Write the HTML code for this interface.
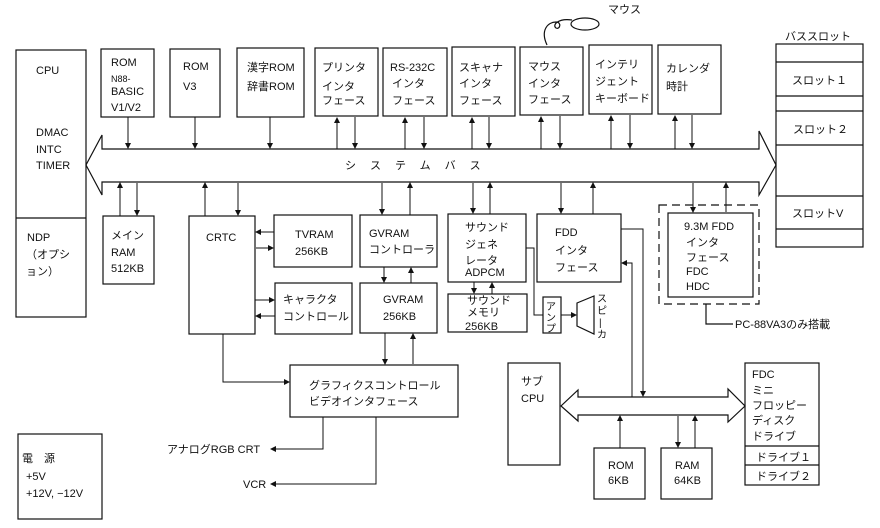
<!DOCTYPE html>
<html><head><meta charset="utf-8"><style>
html,body{margin:0;padding:0;background:#fff;}
svg{display:block;}
text{font-family:"Liberation Sans","Noto Sans CJK JP",sans-serif;font-size:11px;fill:#111;}
</style></head><body>
<svg width="880" height="528" viewBox="0 0 880 528" xmlns="http://www.w3.org/2000/svg">
<defs>
<marker id="a" markerWidth="6" markerHeight="6" refX="5" refY="3" orient="auto" markerUnits="userSpaceOnUse"><path d="M0,0 L6,3 L0,6 z" fill="#111"/></marker>
</defs>
<g fill="none" stroke="#111" stroke-width="1.2">
<!-- CPU -->
<rect x="16" y="50" width="70" height="267"/>
<line x1="16" y1="218" x2="86" y2="218"/>
<!-- top boxes -->
<rect x="101" y="49" width="53" height="68"/>
<rect x="170" y="49" width="50" height="68"/>
<rect x="237" y="48" width="67" height="69"/>
<rect x="315" y="48" width="63" height="68"/>
<rect x="383" y="48" width="64" height="68"/>
<rect x="452" y="47" width="63" height="69"/>
<rect x="520" y="47" width="63" height="68"/>
<rect x="589" y="45" width="63" height="69"/>
<rect x="658" y="45" width="63" height="69"/>
<!-- bus slot -->
<rect x="776" y="44" width="87" height="203"/>
<line x1="776" y1="62" x2="863" y2="62"/>
<line x1="776" y1="96" x2="863" y2="96"/>
<line x1="776" y1="111" x2="863" y2="111"/>
<line x1="776" y1="145" x2="863" y2="145"/>
<line x1="776" y1="196" x2="863" y2="196"/>
<line x1="776" y1="229" x2="863" y2="229"/>
<!-- system bus -->
<path d="M102,149 L759,149 L759,131 L776,165 L759,195 L759,182 L102,182 L102,195 L86,165 L102,135 Z"/>
<!-- mouse icon -->
<path d="M547,45 C540,30 548,22 556,22 C562,22 560,30 556,28 C552,25 558,18 572,20"/>
<ellipse cx="585" cy="24" rx="14" ry="6"/>
<!-- lower boxes -->
<rect x="103" y="216" width="51" height="68"/>
<rect x="189" y="216" width="66" height="118"/>
<rect x="274" y="215" width="78" height="52"/>
<rect x="360" y="215" width="77" height="52"/>
<rect x="275" y="283" width="77" height="51"/>
<rect x="360" y="283" width="77" height="50"/>
<rect x="290" y="365" width="168" height="52"/>
<rect x="448" y="214" width="78" height="68"/>
<rect x="448" y="294" width="79" height="38"/>
<rect x="537" y="214" width="84" height="68"/>
<rect x="543" y="297" width="18" height="36"/>
<path d="M577,303 L594,296 L594,334 L577,326 Z"/>
<rect x="659" y="205" width="100" height="99" stroke-dasharray="8,5"/>
<rect x="668" y="213" width="85" height="84"/>
<path d="M706,304 L706,324 L733,324"/>
<rect x="508" y="363" width="52" height="102"/>
<path d="M578,397 L728,397 L728,389 L745,406 L728,422 L728,415 L578,415 L578,421 L561,406 L578,390 Z"/>
<rect x="745" y="363" width="74" height="122"/>
<line x1="745" y1="446" x2="819" y2="446"/>
<line x1="745" y1="465" x2="819" y2="465"/>
<rect x="594" y="448" width="51" height="51"/>
<rect x="661" y="448" width="51" height="51"/>
<rect x="18" y="434" width="84" height="85"/>
</g>
<g stroke="#111" stroke-width="1" fill="none">
<!-- top connectors -->
<line x1="128" y1="117" x2="128" y2="148" marker-end="url(#a)"/>
<line x1="195" y1="117" x2="195" y2="148" marker-end="url(#a)"/>
<line x1="270" y1="117" x2="270" y2="148" marker-end="url(#a)"/>
<line x1="337" y1="149" x2="337" y2="118" marker-end="url(#a)"/>
<line x1="355" y1="117" x2="355" y2="148" marker-end="url(#a)"/>
<line x1="405" y1="149" x2="405" y2="118" marker-end="url(#a)"/>
<line x1="424" y1="117" x2="424" y2="148" marker-end="url(#a)"/>
<line x1="472" y1="149" x2="472" y2="118" marker-end="url(#a)"/>
<line x1="489" y1="117" x2="489" y2="148" marker-end="url(#a)"/>
<line x1="541" y1="149" x2="541" y2="117" marker-end="url(#a)"/>
<line x1="560" y1="116" x2="560" y2="148" marker-end="url(#a)"/>
<line x1="611" y1="149" x2="611" y2="116" marker-end="url(#a)"/>
<line x1="630" y1="115" x2="630" y2="148" marker-end="url(#a)"/>
<line x1="675" y1="149" x2="675" y2="116" marker-end="url(#a)"/>
<line x1="692" y1="115" x2="692" y2="148" marker-end="url(#a)"/>
<!-- lower connectors -->
<line x1="120" y1="216" x2="120" y2="183" marker-end="url(#a)"/>
<line x1="137" y1="183" x2="137" y2="215" marker-end="url(#a)"/>
<line x1="205" y1="216" x2="205" y2="183" marker-end="url(#a)"/>
<line x1="238" y1="183" x2="238" y2="215" marker-end="url(#a)"/>
<line x1="382" y1="183" x2="382" y2="214" marker-end="url(#a)"/>
<line x1="410" y1="215" x2="410" y2="183" marker-end="url(#a)"/>
<line x1="473" y1="183" x2="473" y2="213" marker-end="url(#a)"/>
<line x1="490" y1="214" x2="490" y2="183" marker-end="url(#a)"/>
<line x1="561" y1="183" x2="561" y2="213" marker-end="url(#a)"/>
<line x1="593" y1="214" x2="593" y2="183" marker-end="url(#a)"/>
<line x1="693" y1="183" x2="693" y2="212" marker-end="url(#a)"/>
<line x1="726" y1="212" x2="726" y2="183" marker-end="url(#a)"/>
<!-- CRTC links -->
<line x1="274" y1="232" x2="256" y2="232" marker-end="url(#a)"/>
<line x1="256" y1="248" x2="273" y2="248" marker-end="url(#a)"/>
<line x1="255" y1="300" x2="274" y2="300" marker-end="url(#a)"/>
<line x1="275" y1="316" x2="256" y2="316" marker-end="url(#a)"/>
<line x1="384" y1="267" x2="384" y2="282" marker-end="url(#a)"/>
<line x1="411" y1="283" x2="411" y2="268" marker-end="url(#a)"/>
<line x1="385" y1="333" x2="385" y2="364" marker-end="url(#a)"/>
<line x1="413" y1="364" x2="413" y2="334" marker-end="url(#a)"/>
<path d="M223,334 L223,382 L289,382" marker-end="url(#a)"/>
<path d="M323,417 L323,449 L271,449" marker-end="url(#a)"/>
<path d="M376,417 L376,484 L271,484" marker-end="url(#a)"/>
<line x1="474" y1="282" x2="474" y2="293" marker-end="url(#a)"/>
<line x1="492" y1="294" x2="492" y2="283" marker-end="url(#a)"/>
<path d="M526,248 L534,248 L534,315 L543,315"/>
<line x1="561" y1="315" x2="576" y2="315" marker-end="url(#a)"/>
<path d="M621,229 L643,229 L643,396" marker-end="url(#a)"/>
<path d="M632,397 L632,263 L622,263" marker-end="url(#a)"/>
<line x1="620" y1="448" x2="620" y2="416" marker-end="url(#a)"/>
<line x1="678" y1="416" x2="678" y2="447" marker-end="url(#a)"/>
<line x1="695" y1="448" x2="695" y2="416" marker-end="url(#a)"/>
</g>
<!-- text -->
<text x="36" y="74">CPU</text>
<text x="36" y="136">DMAC</text>
<text x="36" y="153">INTC</text>
<text x="36" y="169">TIMER</text>
<text x="27" y="241">NDP</text>
<text x="26" y="258">（オプシ</text>
<text x="26" y="275">ョン）</text>
<text x="111" y="66">ROM</text>
<text x="111" y="82" style="font-size:9px">N88-</text>
<text x="111" y="95">BASIC</text>
<text x="111" y="111">V1/V2</text>
<text x="183" y="70">ROM</text>
<text x="183" y="90">V3</text>
<text x="247" y="71">漢字ROM</text>
<text x="247" y="90">辞書ROM</text>
<text x="322" y="71">プリンタ</text>
<text x="322" y="90">インタ</text>
<text x="322" y="104">フェース</text>
<text x="390" y="71">RS-232C</text>
<text x="392" y="87">インタ</text>
<text x="392" y="104">フェース</text>
<text x="459" y="71">スキャナ</text>
<text x="459" y="87">インタ</text>
<text x="459" y="104">フェース</text>
<text x="528" y="70">マウス</text>
<text x="528" y="87">インタ</text>
<text x="528" y="103">フェース</text>
<text x="595" y="68">インテリ</text>
<text x="595" y="85">ジェント</text>
<text x="595" y="102">キーボード</text>
<text x="666" y="72">カレンダ</text>
<text x="666" y="90">時計</text>
<text x="608" y="13">マウス</text>
<text x="785" y="40">バススロット</text>
<text x="792" y="84">スロット１</text>
<text x="793" y="133">スロット２</text>
<text x="792" y="217">スロットV</text>
<text x="345" y="169" style="letter-spacing:14px">システムバス</text>
<text x="111" y="239">メイン</text>
<text x="111" y="256">RAM</text>
<text x="111" y="272">512KB</text>
<text x="206" y="241">CRTC</text>
<text x="295" y="238">TVRAM</text>
<text x="295" y="255">256KB</text>
<text x="369" y="237">GVRAM</text>
<text x="369" y="253">コントローラ</text>
<text x="283" y="303">キャラクタ</text>
<text x="283" y="320">コントロール</text>
<text x="383" y="303">GVRAM</text>
<text x="383" y="320">256KB</text>
<text x="309" y="389">グラフィクスコントロール</text>
<text x="309" y="405">ビデオインタフェース</text>
<text x="167" y="453">アナログRGB CRT</text>
<text x="243" y="488">VCR</text>
<text x="465" y="231">サウンド</text>
<text x="465" y="248">ジェネ</text>
<text x="465" y="264">レータ</text>
<text x="465" y="276">ADPCM</text>
<text x="467" y="304">サウンド</text>
<text x="467" y="316">メモリ</text>
<text x="465" y="330">256KB</text>
<text x="555" y="236">FDD</text>
<text x="555" y="254">インタ</text>
<text x="555" y="271">フェース</text>
<text x="546" y="310" style="font-size:10px">ア</text>
<text x="546" y="321" style="font-size:10px">ン</text>
<text x="546" y="332" style="font-size:10px">プ</text>
<text x="597" y="302" style="font-size:10px">ス</text>
<text x="597" y="314" style="font-size:10px">ピ</text>
<text x="599" y="326" style="font-size:10px">|</text>
<text x="597" y="338" style="font-size:10px">カ</text>
<text x="684" y="230">9.3M FDD</text>
<text x="686" y="246">インタ</text>
<text x="686" y="261">フェース</text>
<text x="686" y="275">FDC</text>
<text x="686" y="290">HDC</text>
<text x="735" y="328">PC-88VA3のみ搭載</text>
<text x="521" y="385">サブ</text>
<text x="521" y="402">CPU</text>
<text x="752" y="378">FDC</text>
<text x="752" y="394">ミニ</text>
<text x="752" y="409">フロッピー</text>
<text x="752" y="424">ディスク</text>
<text x="752" y="440">ドライブ</text>
<text x="756" y="461">ドライブ１</text>
<text x="756" y="480">ドライブ２</text>
<text x="608" y="469">ROM</text>
<text x="608" y="484">6KB</text>
<text x="675" y="469">RAM</text>
<text x="674" y="484">64KB</text>
<text x="22" y="462">電　源</text>
<text x="26" y="480">+5V</text>
<text x="26" y="497">+12V, −12V</text>
</svg>
</body></html>
